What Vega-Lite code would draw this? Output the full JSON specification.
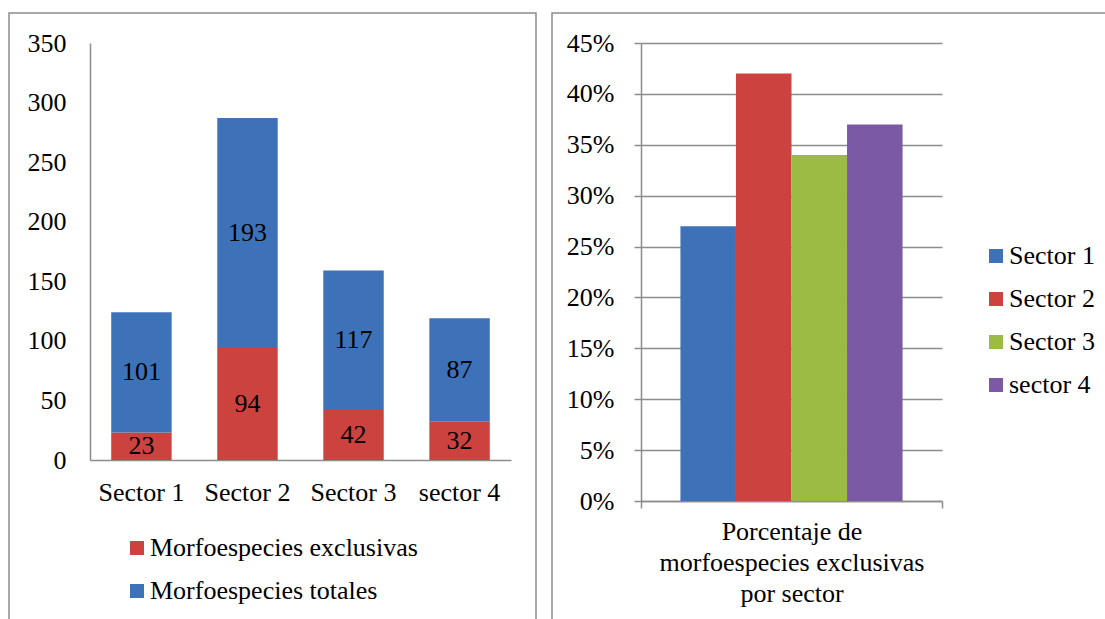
{
  "$schema": "https://vega.github.io/schema/vega-lite/v6.json",
  "padding": {"left": 8, "top": 12, "right": 0, "bottom": 0},
  "spacing": 14,
  "resolve": {"scale": {"color": "independent"}, "legend": {"color": "independent"}},
  "config": {
    "font": "Liberation Serif",
    "view": {"stroke": "#8c8c8c", "strokeWidth": 1.5},
    "text": {"font": "Liberation Serif"},
    "axis": {"labelFont": "Liberation Serif", "titleFont": "Liberation Serif", "labelFontSize": 26, "labelColor": "#000000", "domainColor": "#8c8c8c", "domainWidth": 1.5, "titleFontWeight": "normal", "titleColor": "#000000", "titleFontSize": 26, "tickColor": "#8c8c8c", "tickWidth": 1.5},
    "legend": {"labelFont": "Liberation Serif", "labelFontSize": 26, "labelColor": "#000000", "symbolType": "square", "symbolSize": 196, "symbolStrokeWidth": 0, "padding": 0, "labelLimit": 400}
  },
  "datasets": {
    "totales": [
      {"sector": "Sector 1", "serie": "Morfoespecies exclusivas", "valor": 23},
      {"sector": "Sector 1", "serie": "Morfoespecies totales", "valor": 101},
      {"sector": "Sector 2", "serie": "Morfoespecies exclusivas", "valor": 94},
      {"sector": "Sector 2", "serie": "Morfoespecies totales", "valor": 193},
      {"sector": "Sector 3", "serie": "Morfoespecies exclusivas", "valor": 42},
      {"sector": "Sector 3", "serie": "Morfoespecies totales", "valor": 117},
      {"sector": "sector 4", "serie": "Morfoespecies exclusivas", "valor": 32},
      {"sector": "sector 4", "serie": "Morfoespecies totales", "valor": 87}
    ],
    "pct": [
      {"categoria": "Porcentaje de morfoespecies exclusivas por sector", "sector": "Sector 1", "pct": 0.27},
      {"categoria": "Porcentaje de morfoespecies exclusivas por sector", "sector": "Sector 2", "pct": 0.42},
      {"categoria": "Porcentaje de morfoespecies exclusivas por sector", "sector": "Sector 3", "pct": 0.34},
      {"categoria": "Porcentaje de morfoespecies exclusivas por sector", "sector": "sector 4", "pct": 0.37}
    ]
  },
  "hconcat": [
    {
      "width": 527,
      "height": 608,
      "data": {"name": "totales"},
      "layer": [
        {
          "mark": {"type": "bar"},
          "encoding": {
            "x": {"field": "sector", "type": "nominal", "sort": null,
              "scale": {"range": [81, 502], "paddingInner": 0.43, "paddingOuter": 0.2},
              "axis": {"title": null, "labelAngle": 0, "ticks": false, "labelPadding": 19, "offset": -161}},
            "y": {"field": "valor", "type": "quantitative", "stack": "zero",
              "scale": {"domain": [0, 350], "range": [447, 30], "nice": false},
              "axis": {"title": null, "values": [0, 50, 100, 150, 200, 250, 300, 350], "grid": false, "ticks": false, "labelPadding": 24, "offset": -81}},
            "color": {"field": "serie", "type": "nominal",
              "scale": {"domain": ["Morfoespecies exclusivas", "Morfoespecies totales"], "range": ["#cc423e", "#3d72b8"]},
              "legend": {"title": null, "orient": "none", "legendX": 115, "legendY": 522, "rowPadding": 17, "labelOffset": 0}},
            "order": {"field": "serie", "sort": "ascending"}
          }
        },
        {
          "transform": [
            {"stack": "valor", "groupby": ["sector"], "sort": [{"field": "serie", "order": "ascending"}], "as": ["v0", "v1"]},
            {"calculate": "(datum.v0 + datum.v1) / 2", "as": "mid"}
          ],
          "mark": {"type": "text", "fontSize": 26, "font": "Liberation Serif", "baseline": "middle", "color": "#000000"},
          "encoding": {
            "x": {"field": "sector", "type": "nominal", "sort": null},
            "y": {"field": "mid", "type": "quantitative", "scale": {"domain": [0, 350], "range": [447, 30], "nice": false}},
            "text": {"field": "valor", "type": "quantitative"}
          }
        }
      ]
    },
    {
      "width": 558,
      "height": 608,
      "data": {"name": "pct"},
      "mark": {"type": "bar"},
      "encoding": {
        "x": {"field": "categoria", "type": "nominal",
          "scale": {"range": [89, 390], "paddingInner": 0, "paddingOuter": 0},
          "axis": {"labels": false, "title": ["Porcentaje de", "morfoespecies exclusivas", "por sector"], "titleLineHeight": 31, "titlePadding": 10, "bandPosition": 1, "tickExtra": true, "ticks": true, "tickSize": 7, "offset": -120}},
        "xOffset": {"field": "sector", "type": "nominal", "sort": null, "scale": {"paddingInner": 0, "paddingOuter": 0.71}},
        "y": {"field": "pct", "type": "quantitative",
          "scale": {"domain": [0, 0.45], "range": [488, 30], "nice": false},
          "axis": {"title": null, "format": ".0%", "values": [0, 0.05, 0.1, 0.15, 0.2, 0.25, 0.3, 0.35, 0.4, 0.45], "grid": true, "gridColor": "#8c8c8c", "gridWidth": 1.5, "ticks": true, "tickSize": 7, "labelPadding": 20, "offset": -89}},
        "color": {"field": "sector", "type": "nominal", "sort": null,
          "scale": {"domain": ["Sector 1", "Sector 2", "Sector 3", "sector 4"], "range": ["#3d72b8", "#cc423e", "#9bbb45", "#7b59a5"]},
          "legend": {"title": null, "orient": "none", "legendX": 431, "legendY": 230, "rowPadding": 17, "labelOffset": 0}}
      }
    }
  ]
}
